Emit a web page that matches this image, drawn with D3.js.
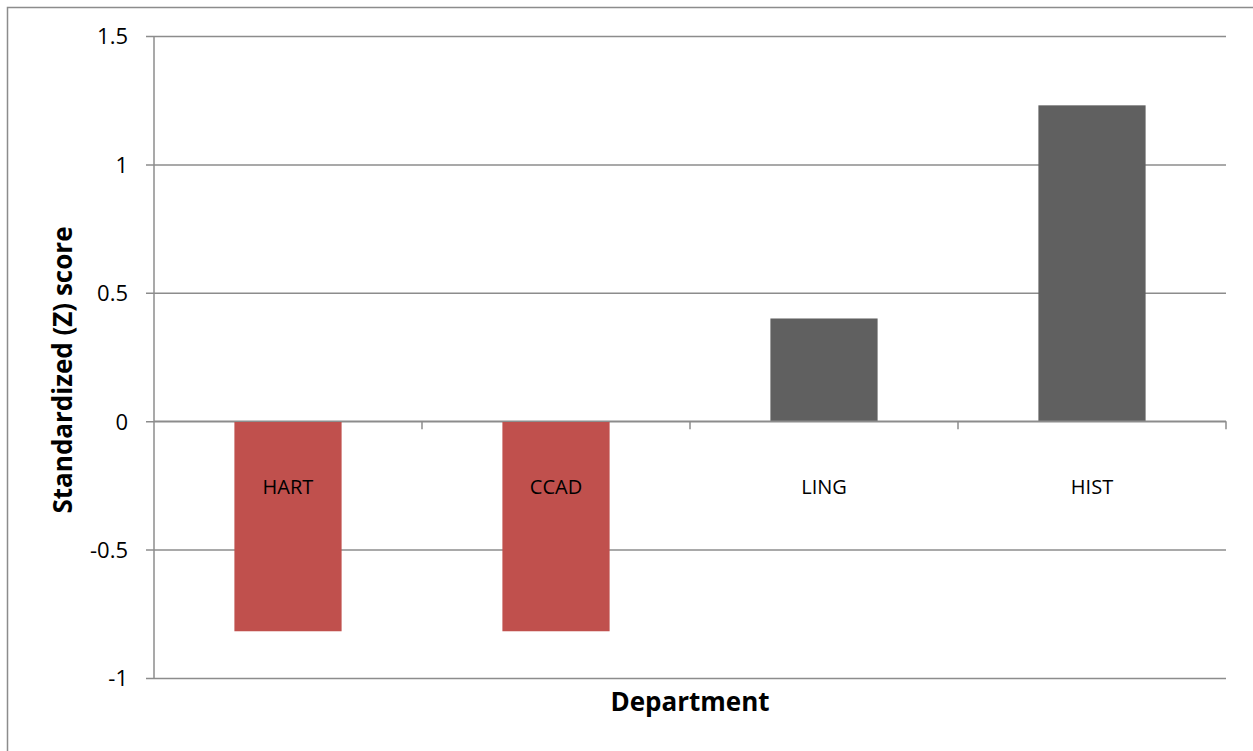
<!DOCTYPE html>
<html><head><meta charset="utf-8">
<script src="https://cdn.jsdelivr.net/npm/d3@7"></script>
<style>body{margin:0;background:#fff}svg{display:block}</style>
</head><body>
<svg id="c" width="1253" height="751"></svg>
<script>
const categories = ["HART", "CCAD", "LING", "HIST"];
const values = [-0.818, -0.818, 0.40, 1.23];
const colors = ["#C0504D", "#C0504D", "#606060", "#606060"];
const yTicks = [-1, -0.5, 0, 0.5, 1, 1.5];
const yTitle = "Standardized (Z) score";
const xTitle = "Department";

const svg = d3.select("#c");
const L = 154, R = 1226, T = 36, B = 678;
const font = "'Open Sans', sans-serif";
const grid = "#8c8c8c";

// outer frame (left & top only visible)
svg.append("path").attr("d", "M7.5,751 V7.5 H1253").attr("fill","none").attr("stroke","#8c8c8c").attr("stroke-width",1.5);

const x = d3.scaleBand().domain(categories).range([L, R]).paddingInner(0.6).paddingOuter(0.3);
const xb = d3.scaleBand().domain(categories).range([L, R]);
const y = d3.scaleLinear().domain([-1, 1.5]).range([B, T]);

// gridlines + y ticks
const yAxis = d3.axisLeft(y).tickValues(yTicks).tickSize(R - L + 8).tickFormat(d => String(d));
const gy = svg.append("g").attr("transform", `translate(${R},0)`).call(yAxis);
gy.select(".domain").remove();
gy.selectAll(".tick line").attr("stroke", grid).attr("stroke-width", 1.5);
gy.selectAll(".tick text").attr("x", -(R - L) - 26).attr("dy", "0.36em").attr("font-family", font).attr("font-size", 22).attr("fill", "#000").attr("text-anchor","end");

// left axis line
svg.append("line").attr("x1", L).attr("x2", L).attr("y1", T).attr("y2", B).attr("stroke", grid).attr("stroke-width", 1.5);

// bars
svg.append("g").selectAll("rect").data(categories).join("rect")
  .attr("x", d => x(d))
  .attr("width", x.bandwidth())
  .attr("y", (d, i) => y(Math.max(0, values[i])))
  .attr("height", (d, i) => Math.abs(y(values[i]) - y(0)))
  .attr("fill", (d, i) => colors[i]);

// zero axis with category ticks
svg.append("line").attr("x1", L).attr("x2", R).attr("y1", y(0)).attr("y2", y(0)).attr("stroke", grid).attr("stroke-width", 1.5);
const bounds = categories.map(c => xb(c)).concat([R]).slice(1);
svg.append("g").selectAll("line").data(bounds).join("line")
  .attr("x1", d => d).attr("x2", d => d).attr("y1", y(0)).attr("y2", y(0) + 8)
  .attr("stroke", grid).attr("stroke-width", 1.5);

// category labels
svg.append("g").selectAll("text").data(categories).join("text")
  .attr("x", d => xb(d) + xb.bandwidth() / 2)
  .attr("y", y(0) + 73)
  .attr("text-anchor", "middle")
  .attr("font-family", font).attr("font-size", 20).attr("fill", "#000")
  .text(d => d);

// axis titles
svg.append("text").attr("x", (L + R) / 2).attr("y", 711).attr("text-anchor", "middle")
  .attr("font-family", font).attr("font-weight", "bold").attr("font-size", 26).text(xTitle);
svg.append("text").attr("transform", "translate(72,370) rotate(-90)").attr("text-anchor", "middle")
  .attr("font-family", font).attr("font-weight", "bold").attr("font-size", 26).text(yTitle);
</script>
</body></html>
